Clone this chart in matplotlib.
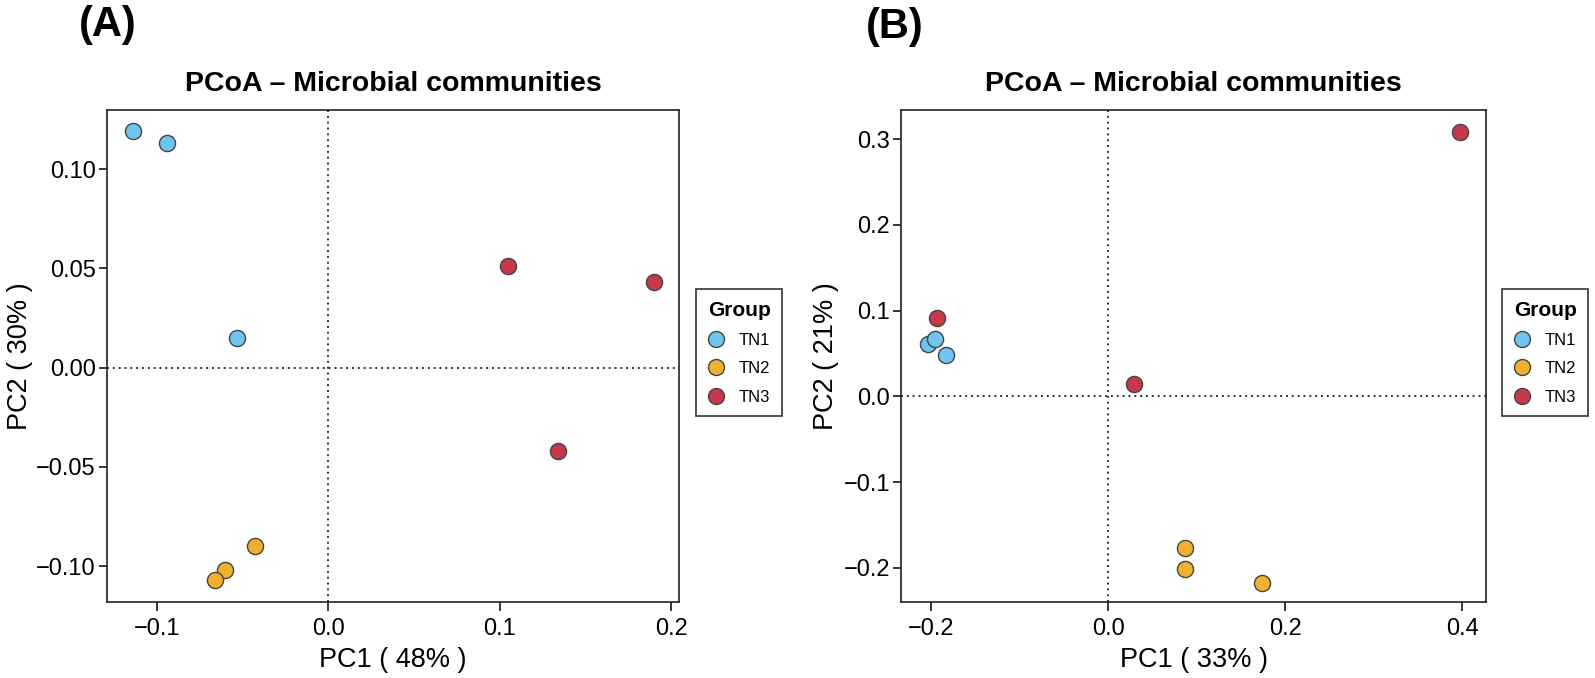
import matplotlib
matplotlib.use('Agg')
import matplotlib.pyplot as plt
from matplotlib.lines import Line2D

plt.rcParams['font.family'] = ['Liberation Sans', 'DejaVu Sans']

# ---- data ----
groups = ['TN1', 'TN2', 'TN3']
colors = ['#6DC5F0', '#F0B030', '#C8384B']

# panel A  (PC1 48 %, PC2 30 %)
a_tn1_x = [-0.114, -0.094, -0.053]
a_tn1_y = [0.119, 0.113, 0.015]
a_tn2_x = [-0.043, -0.060, -0.066]
a_tn2_y = [-0.090, -0.102, -0.107]
a_tn3_x = [0.105, 0.190, 0.134]
a_tn3_y = [0.051, 0.043, -0.042]

# panel B  (PC1 33 %, PC2 21 %)
b_tn1_x = [-0.204, -0.196, -0.1835]
b_tn1_y = [0.061, 0.067, 0.048]
b_tn2_x = [0.087, 0.087, 0.174]
b_tn2_y = [-0.177, -0.201, -0.217]
b_tn3_x = [-0.194, 0.029, 0.398]
b_tn3_y = [0.091, 0.015, 0.308]

a_xticks = [-0.1, 0.0, 0.1, 0.2]
a_yticks = [-0.10, -0.05, 0.00, 0.05, 0.10]
b_xticks = [-0.2, 0.0, 0.2, 0.4]
b_yticks = [-0.2, -0.1, 0.0, 0.1, 0.2, 0.3]

W, H = 1595, 678
fig = plt.figure(figsize=(W / 100, H / 100), dpi=100)


def px_axes(l, r, t, b):
    return fig.add_axes([l / W, 1 - b / H, (r - l) / W, (b - t) / H])


def draw_panel(ax, xs, ys, xlim, ylim, xt, yt, xfmt, yfmt, xlab, ylab, ylab_x):
    ax.axvline(0, color='#333333', lw=1.4, ls=(0, (1, 2)), zorder=1)
    ax.axhline(0, color='#333333', lw=1.4, ls=(0, (1, 2)), zorder=1)
    for (x, y), c in zip(zip(xs, ys), colors):
        ax.scatter(x, y, s=135, c=c, edgecolors='#444444', linewidths=1.0, zorder=3)
    ax.set_xlim(*xlim)
    ax.set_ylim(*ylim)
    ax.set_xticks(xt)
    ax.set_xticklabels([xfmt.format(v).replace('-', '\u2212') for v in xt])
    ax.set_yticks(yt)
    ax.set_yticklabels([yfmt.format(v).replace('-', '\u2212') for v in yt])
    ax.tick_params(axis='x', length=6.7, width=1.1, pad=5, labelsize=17)
    ax.tick_params(axis='y', length=6, width=1.1, pad=2, labelsize=17)
    for sp in ax.spines.values():
        sp.set_linewidth(1.2)
        sp.set_color('#222222')
    ax.set_title('PCoA \u2013 Microbial communities', fontsize=20.5,
                 fontweight='bold', pad=14)
    ax.set_xlabel(xlab, fontsize=19.5, va='center')
    ax.xaxis.set_label_coords(0.5, -0.118)
    ax.set_ylabel(ylab, fontsize=19.5, va='center')
    ax.yaxis.set_label_coords(ylab_x, 0.5)


ax_a = px_axes(107, 679, 110, 602)
draw_panel(ax_a,
           [a_tn1_x, a_tn2_x, a_tn3_x], [a_tn1_y, a_tn2_y, a_tn3_y],
           (-0.129, 0.2045), (-0.1181, 0.1298),
           a_xticks, a_yticks, '{:.1f}', '{:.2f}',
           'PC1 ( 48% )', 'PC2 ( 30% )', -0.152)

ax_b = px_axes(901, 1486, 110, 602)
draw_panel(ax_b,
           [b_tn1_x, b_tn2_x, b_tn3_x], [b_tn1_y, b_tn2_y, b_tn3_y],
           (-0.2344, 0.427), (-0.2397, 0.334),
           b_xticks, b_yticks, '{:.1f}', '{:.1f}',
           'PC1 ( 33% )', 'PC2 ( 21% )', -0.129)

# panel letters
fig.text(108 / W, 1 - 25 / H, '(A)', fontsize=30, fontweight='bold',
         ha='center', va='center')
fig.text(895 / W, 1 - 27 / H, '(B)', fontsize=30, fontweight='bold',
         ha='center', va='center')

# legends
handles = [Line2D([], [], ls='none', marker='o', markersize=11.5,
                  markerfacecolor=c, markeredgecolor='#444444',
                  markeredgewidth=1.0) for c in colors]
for x0 in (696, 1502):
    leg = fig.legend(handles, groups, title='Group', loc='upper left',
                     bbox_to_anchor=(x0 / W, 1 - 289 / H), borderaxespad=0,
                     fontsize=12, title_fontproperties={'weight': 'bold', 'size': 15},
                     frameon=True, fancybox=False, edgecolor='black',
                     handlelength=1.0, handletextpad=0.85, labelspacing=0.8,
                     borderpad=0.7, alignment='left')
    leg.get_frame().set_linewidth(1.2)

fig.savefig('out.png', dpi=100)
